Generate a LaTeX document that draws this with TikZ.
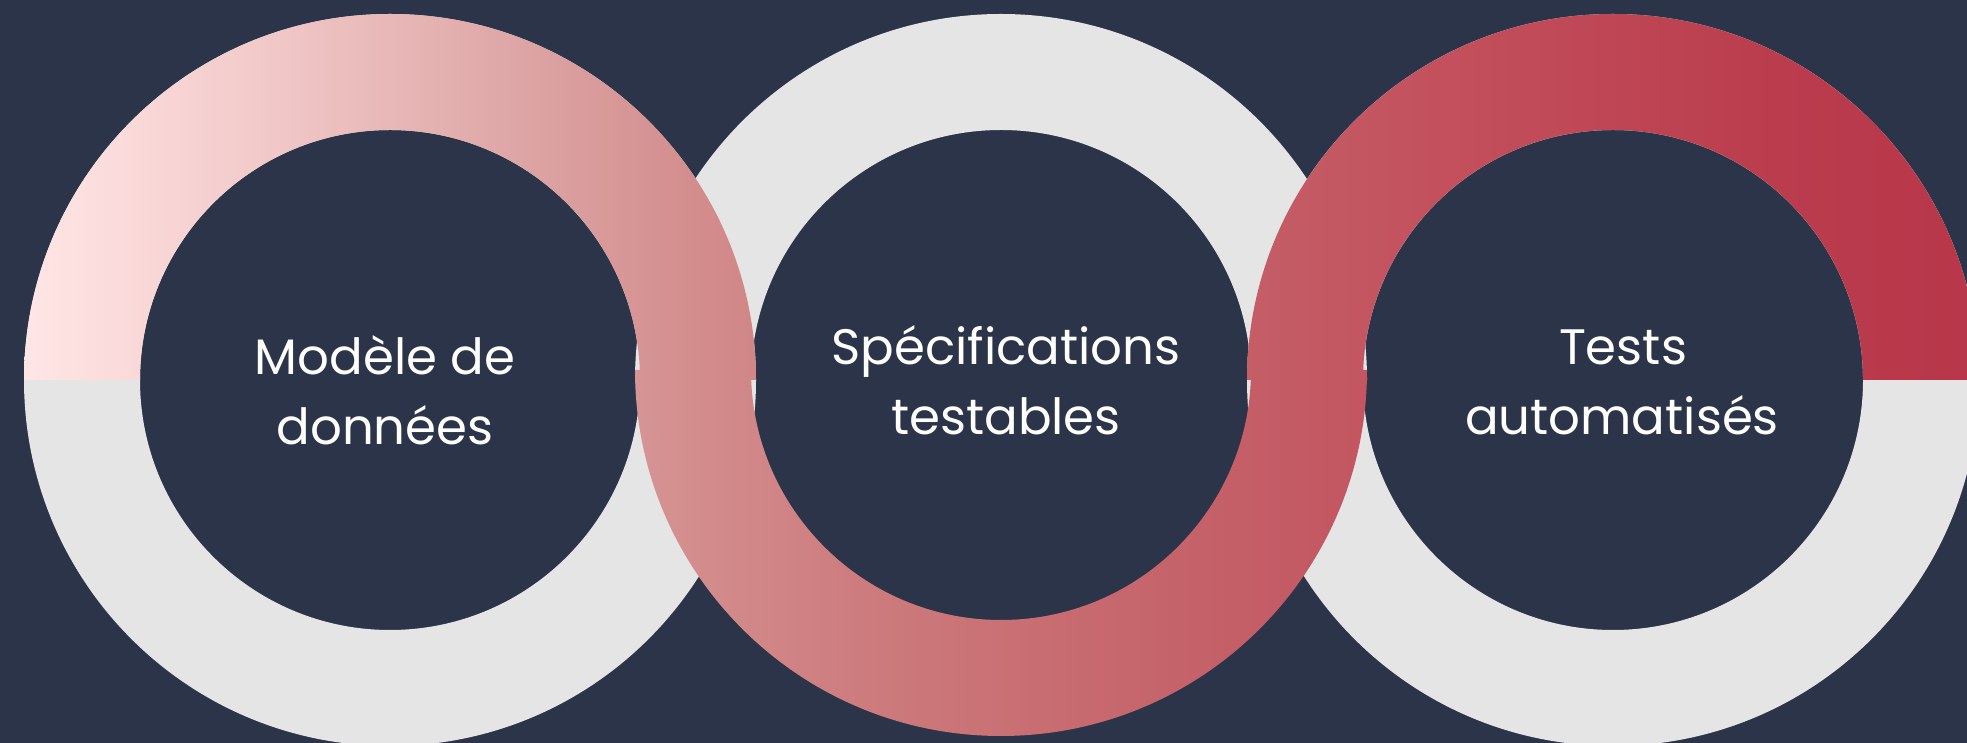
\documentclass[tikz,border=0pt]{standalone}
\usepackage{fontspec}
\setmainfont{Poppins}

\definecolor{bgnavy}{HTML}{2C3449}
\definecolor{ringgray}{HTML}{E5E5E5}
% stops of the pink-to-crimson band
\definecolor{gA}{HTML}{FFE8E8}
\definecolor{gB}{HTML}{FFE6E6}
\definecolor{gC}{HTML}{F8D4D4}
\definecolor{gD}{HTML}{EFC4C4}
\definecolor{gE}{HTML}{DCA2A2}
\definecolor{gF}{HTML}{D38C8C}
\definecolor{gG}{HTML}{CD7C7E}
\definecolor{gH}{HTML}{C5646B}
\definecolor{gI}{HTML}{C35A64}
\definecolor{gJ}{HTML}{C3505C}
\definecolor{gK}{HTML}{BA3C4D}
\definecolor{gL}{HTML}{B8374A}

% the 25bp..75bp part spans the whole picture width
\pgfdeclarehorizontalshading{redband}{100bp}{%
  color(0bp)=(gA); color(25bp)=(gA); color(25.61bp)=(gB);
  color(29.45bp)=(gC); color(32.63bp)=(gD); color(38.73bp)=(gE);
  color(42.79bp)=(gF); color(46.86bp)=(gG); color(54.49bp)=(gH);
  color(58.05bp)=(gI); color(61.86bp)=(gJ); color(70.25bp)=(gK);
  color(75bp)=(gL); color(100bp)=(gL)}

\begin{document}
\begin{tikzpicture}[x=1bp,y=1bp,
  ringfill/.style={fill=ringgray, even odd rule},
  steplabel/.style={text=white, font=\fontsize{50}{60}\selectfont,
                    anchor=base, inner sep=0pt}]
\useasboundingbox (0,0) rectangle (1967,743);
\clip (0,0) rectangle (1967,743);
\fill[bgnavy] (0,0) rectangle (1967,743);

\coordinate (c1) at (390,363);
\coordinate (c2) at (1001,363);
\coordinate (c3) at (1613,363);
\coordinate (c2r) at (1001,373);

% grey rings (the middle one only above its centre line)
\fill[ringfill] (c1) circle[radius=366] (c1) circle[radius=250];
\fill[ringgray] (c2) ++(180:366) arc[start angle=180,end angle=0,radius=366]
      -- ++(-116,0) arc[start angle=0,end angle=180,radius=250] -- cycle;
\fill[ringfill] (c3) circle[radius=366] (c3) circle[radius=250];

% upper half of the first ring
\begin{scope}
  \clip (c1) ++(180:366) arc[start angle=180,end angle=0,radius=366]
        -- ++(-116,0) arc[start angle=0,end angle=180,radius=250] -- cycle;
  \shade[shading=redband] (0,0) rectangle (1967,743);
\end{scope}
% upper half of the third ring
\begin{scope}
  \clip (c3) ++(180:366) arc[start angle=180,end angle=0,radius=366]
        -- ++(-116,0) arc[start angle=0,end angle=180,radius=250] -- cycle;
  \shade[shading=redband] (0,0) rectangle (1967,743);
\end{scope}
% lower half of the middle ring
\begin{scope}
  \clip (c2r) ++(180:366) arc[start angle=180,end angle=360,radius=366]
        -- ++(-116,0) arc[start angle=0,end angle=-180,radius=250] -- cycle;
  \shade[shading=redband] (0,0) rectangle (1967,743);
\end{scope}

% labels
\node[steplabel] (t1a) at (385,368) {Modèle de};
\node[steplabel] (t1b) at (385,298) {données};
\node[steplabel] (t2a) at (1006,378) {Spécifications};
\node[steplabel] (t2b) at (1006,308) {testables};
\node[steplabel] (t3a) at (1623,378) {Tests};
\node[steplabel] (t3b) at (1622,308) {automatisés};
\end{tikzpicture}
\end{document}
